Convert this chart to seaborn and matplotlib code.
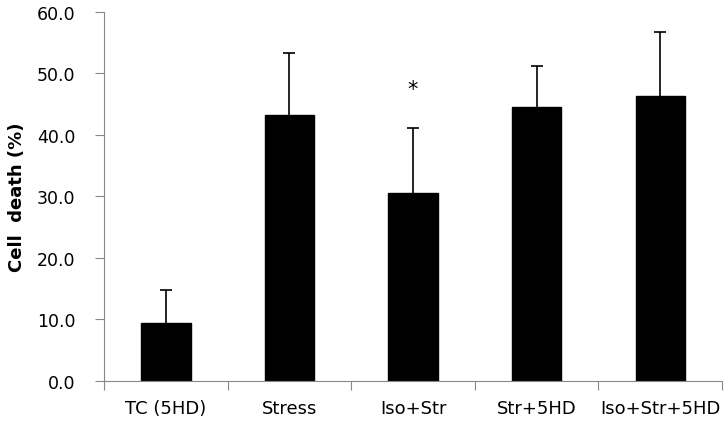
import numpy as np
import pandas as pd
import matplotlib
matplotlib.use("Agg")
import matplotlib.pyplot as plt
import seaborn as sns

categories = ["TC (5HD)", "Stress", "Iso+Str", "Str+5HD", "Iso+Str+5HD"]
cell_death = [9.4, 43.3, 30.6, 44.6, 46.3]
err_upper = [5.4, 10.0, 10.6, 6.6, 10.4]
star_label = "*"
star_category = "Iso+Str"
star_y = 47.5
y_ticks = [0, 10, 20, 30, 40, 50, 60]

sns.set_theme(style="white")
plt.rcParams["font.family"] = ["DejaVu Sans"]
plt.rcParams["text.color"] = "black"
plt.rcParams["xtick.color"] = "black"
plt.rcParams["ytick.color"] = "black"

df = pd.DataFrame({"group": categories, "value": cell_death})

fig = plt.figure(figsize=(7.28, 4.27), dpi=100)
ax = fig.add_axes([0.1429, 0.1054, 0.8489, 0.8642])

sns.barplot(data=df, x="group", y="value", color="black", width=0.4,
            errorbar=None, ax=ax, saturation=1, edgecolor="black")

pos = np.arange(len(categories))
cont = ax.errorbar(pos, cell_death, yerr=[np.zeros(len(err_upper)), err_upper],
                   fmt="none", ecolor="black", elinewidth=1.2, capsize=4,
                   capthick=1.2)
caplines = cont.lines[1]
if len(caplines) == 2:
    caplines[0].set_visible(False)

ax.text(categories.index(star_category), star_y, star_label, ha="center",
        va="center", fontsize=15, color="black")

ax.set_ylim(0, 60)
ax.set_yticks(y_ticks)
ax.set_yticklabels([f"{v:.1f}" for v in y_ticks], fontsize=12.5, color="black")
ax.set_xlim(-0.5, len(categories) - 0.5)
ax.set_xticks(np.arange(-0.5, len(categories), 1.0))
ax.set_xticklabels([])
ax.set_xticks(pos, minor=True)
ax.set_xticklabels(categories, minor=True, fontsize=13, color="black")
ax.tick_params(axis="x", which="major", direction="out", length=6.5, width=0.8,
               color="#888888", bottom=True)
ax.tick_params(axis="x", which="minor", length=0, pad=13, bottom=True)
ax.tick_params(axis="y", direction="out", length=6.5, width=0.8, color="#888888",
               pad=14, left=True)

ax.set_xlabel("")
ax.set_ylabel("Cell  death (%)", fontsize=13, fontweight="bold", labelpad=8,
              color="black")

for s in ["top", "right"]:
    ax.spines[s].set_visible(False)
for s in ["left", "bottom"]:
    ax.spines[s].set_color("#888888")
    ax.spines[s].set_linewidth(0.8)

fig.savefig("out.png", dpi=100, facecolor="white")
